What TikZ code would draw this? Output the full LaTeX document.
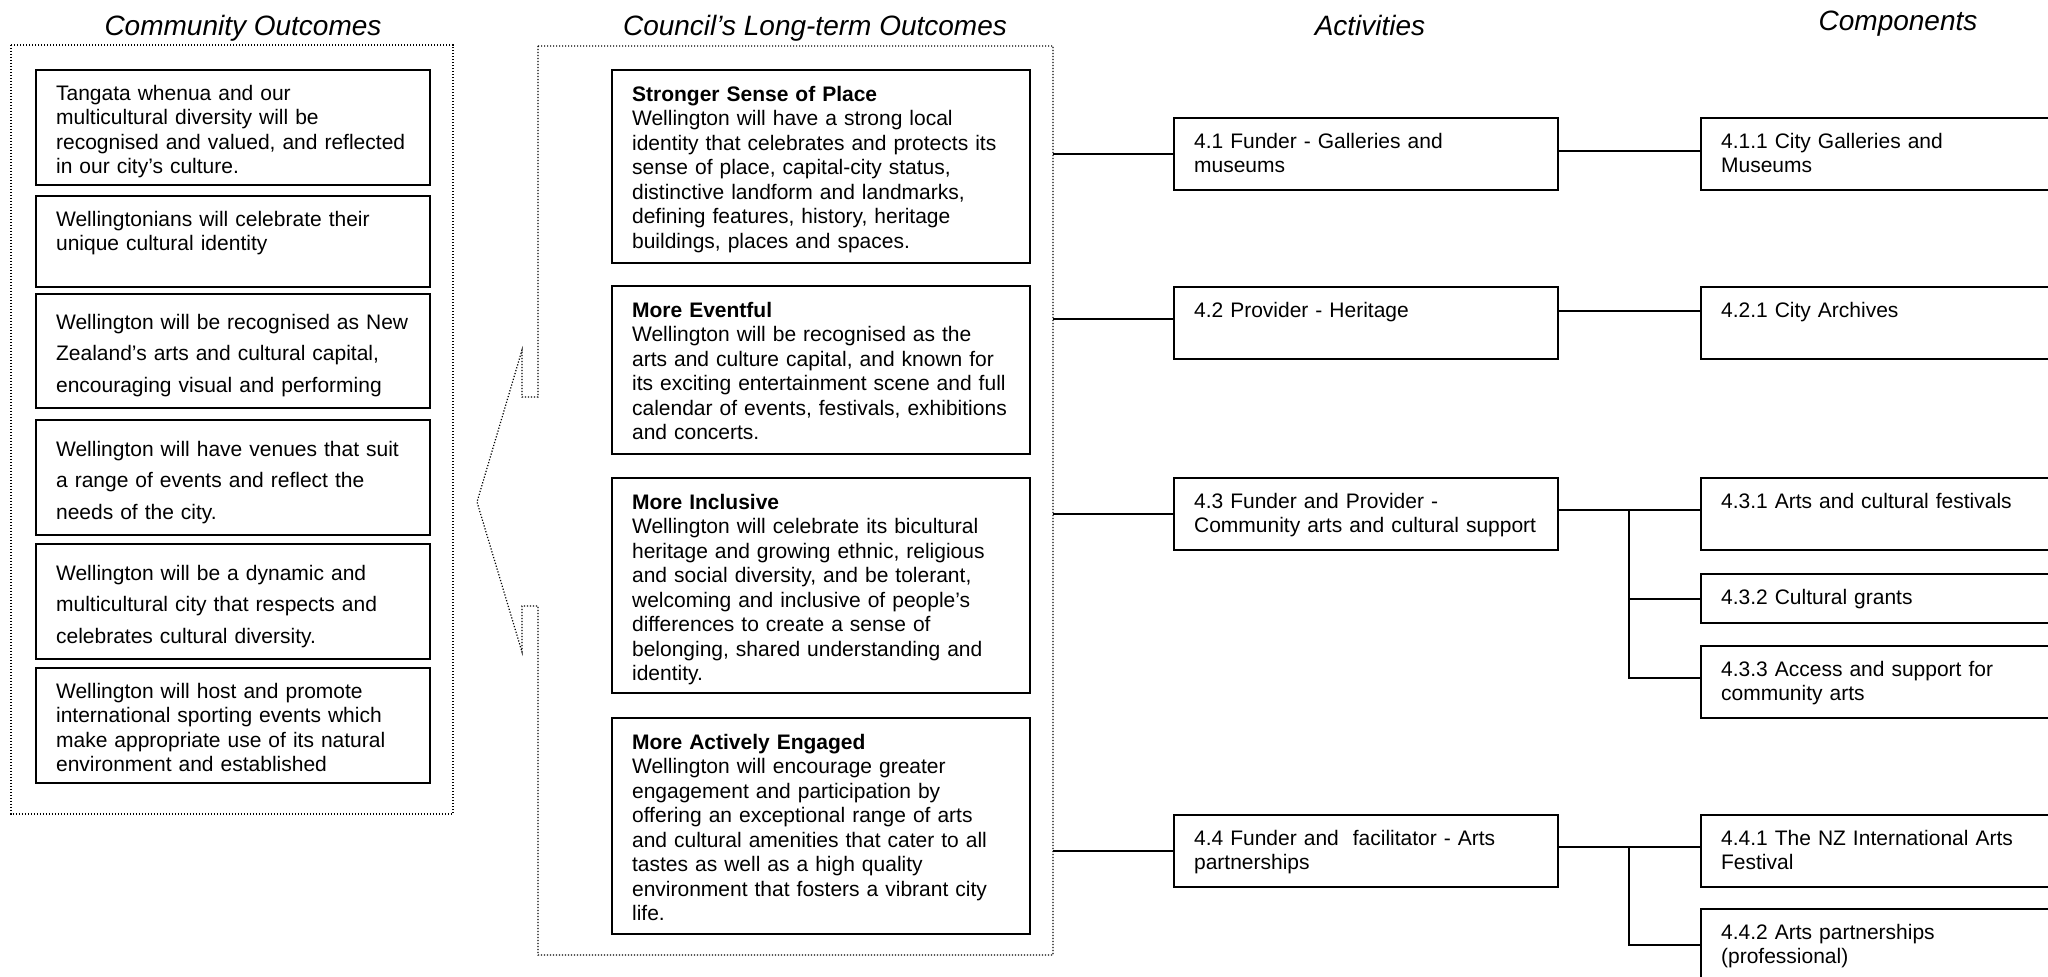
\documentclass[tikz,border=0pt]{standalone}
\usepackage{fontspec}
\setmainfont{Liberation Sans}
\usepackage{tikz}

\begin{document}
\begin{tikzpicture}[x=0.5pt, y=-0.5pt]

\tikzstyle{every node} = [font=\fontsize{10.5pt}{12.25pt}\selectfont]
\tikzstyle{head} = [anchor=base, inner sep=0pt, font=\fontsize{14pt}{16pt}\selectfont\itshape]
\tikzstyle{cell} = [draw, line width=1.1pt, anchor=north west, inner xsep=10pt, inner ysep=0pt, align=left, text height=15pt, text depth=21pt]
\tikzstyle{wide} = [font=\fontsize{10.5pt}{15.75pt}\selectfont]
\tikzstyle{frame} = [line width=0.6pt, dash pattern=on 0.6pt off 0.9pt]
\tikzstyle{link} = [line width=1pt]

\useasboundingbox (0,0) rectangle (2048,977);
\fill[white] (0,0) rectangle (2048,977);

\node[head] (h1) at (243,36) {Community Outcomes};
\node[head] (h2) at (815,36) {Council’s Long-term Outcomes};
\node[head] (h3) at (1370,36) {Activities};
\node[head] (h4) at (1898,31) {Components};

\draw[frame] (11,45) rectangle (453,814);
\draw[frame] (538,46) -- (1053,46) -- (1053,955) -- (538,955) -- (538,606) -- (522,606) -- (522,652)
  -- (477,502) -- (522,350) -- (522,397) -- (538,397) -- cycle;
\coordinate (fr) at (1053,46);
\coordinate (jn) at (1629,0);

\node[cell, text width=177pt, text depth=42.5pt] (o1) at (35,69) {Tangata whenua and our\\multicultural diversity will be\\recognised and valued, and reflected\\in our city’s culture.};
\node[cell, text width=177pt, text depth=30.5pt] (o2) at (35,195) {Wellingtonians will celebrate their\\unique cultural identity};
\node[cell, wide, text width=177pt, text height=17.5pt, text depth=39.5pt] (o3) at (35,293) {Wellington will be recognised as New\\Zealand’s arts and cultural capital,\\encouraging visual and performing};
\node[cell, wide, text width=177pt, text height=18pt, text depth=39.5pt] (o4) at (35,419) {Wellington will have venues that suit\\a range of events and reflect the\\needs of the city.};
\node[cell, wide, text width=177pt, text height=18pt, text depth=39.5pt] (o5) at (35,543) {Wellington will be a dynamic and\\multicultural city that respects and\\celebrates cultural diversity.};
\node[cell, text width=177pt, text depth=42.5pt] (o6) at (35,667) {Wellington will host and promote\\international sporting events which\\make appropriate use of its natural\\environment and established};

\node[cell, text width=189pt, text height=15.5pt, text depth=81pt] (l1) at (611,69) {\textbf{Stronger Sense of Place}\\Wellington will have a strong local\\identity that celebrates and protects its\\sense of place, capital-city status,\\distinctive landform and landmarks,\\defining features, history, heritage\\buildings, places and spaces.};
\node[cell, text width=189pt, text height=15.5pt, text depth=68.5pt] (l2) at (611,285) {\textbf{More Eventful}\\Wellington will be recognised as the\\arts and culture capital, and known for\\its exciting entertainment scene and full\\calendar of events, festivals, exhibitions\\and concerts.};
\node[cell, text width=189pt, text height=15.5pt, text depth=92pt] (l3) at (611,477) {\textbf{More Inclusive}\\Wellington will celebrate its bicultural\\heritage and growing ethnic, religious\\and social diversity, and be tolerant,\\welcoming and inclusive of people’s\\differences to create a sense of\\belonging, shared understanding and\\identity.};
\node[cell, text width=189pt, text height=15.5pt, text depth=92.5pt] (l4) at (611,717) {\textbf{More Actively Engaged}\\Wellington will encourage greater\\engagement and participation by\\offering an exceptional range of arts\\and cultural amenities that cater to all\\tastes as well as a high quality\\environment that fosters a vibrant city\\life.};

\node[cell, text width=172pt] (a41) at (1173,117) {4.1 Funder - Galleries and\\museums};
\node[cell, text width=172pt] (a42) at (1173,286) {4.2 Provider - Heritage};
\node[cell, text width=172pt] (a43) at (1173,477) {4.3 Funder and Provider -\\Community arts and cultural support};
\node[cell, text width=172pt] (a44) at (1173,814) {4.4 Funder and\ \ facilitator - Arts\\partnerships};

\node[cell, text width=170pt] (c411) at (1700,117) {4.1.1 City Galleries and\\Museums};
\node[cell, text width=170pt] (c421) at (1700,286) {4.2.1 City Archives};
\node[cell, text width=170pt] (c431) at (1700,477) {4.3.1 Arts and cultural festivals};
\node[cell, text width=170pt, text depth=9.5pt] (c432) at (1700,573) {4.3.2 Cultural grants};
\node[cell, text width=170pt] (c433) at (1700,645) {4.3.3 Access and support for\\community arts};
\node[cell, text width=170pt] (c441) at (1700,814) {4.4.1 The NZ International Arts\\Festival};
\node[cell, text width=170pt] (c442) at (1700,908) {4.4.2 Arts partnerships\\(professional)};

\draw[link] (fr |- a41.west) -- (a41.west);
\draw[link] ([yshift=2pt]fr |- a42.west) -- ([yshift=2pt]a42.west);
\draw[link] (fr |- a43.west) -- (a43.west);
\draw[link] (fr |- a44.west) -- (a44.west);

\draw[link] ([yshift=1.5pt]a41.east) -- ([yshift=1.5pt]c411.west);
\draw[link] ([yshift=6pt]a42.east) -- ([yshift=6pt]c421.west);
\draw[link] ([yshift=2pt]a43.east) -- ([yshift=2pt]c431.west);
\draw[link] ([yshift=2pt]jn |- a43.east) |- (c432.west);
\draw[link] ([yshift=2pt]jn |- a43.east) |- ([yshift=2pt]c433.west);
\draw[link] ([yshift=2pt]a44.east) -- ([yshift=2pt]c441.west);
\draw[link] ([yshift=2pt]jn |- a44.east) |- (c442.west);

\end{tikzpicture}
\end{document}
